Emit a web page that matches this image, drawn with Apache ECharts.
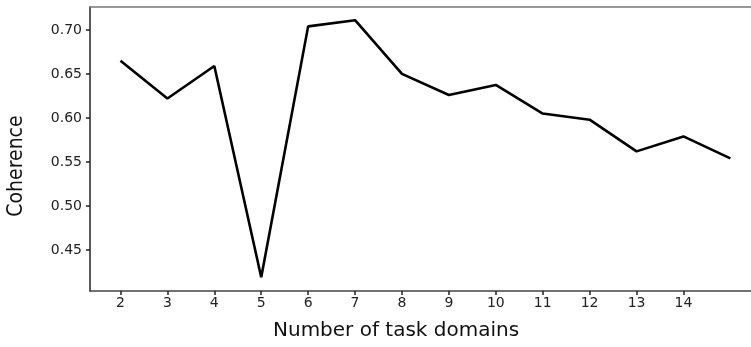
<!DOCTYPE html>
<html>
<head>
<meta charset="utf-8">
<script src="https://cdn.jsdelivr.net/npm/echarts@6/dist/echarts.min.js"></script>
<style>
  html, body { margin: 0; padding: 0; background: #fff; }
  #chart { width: 751px; height: 347px; }
</style>
</head>
<body>
<div id="chart"></div>
<script>
// Number of task domains vs. topic coherence
const domains = [2, 3, 4, 5, 6, 7, 8, 9, 10, 11, 12, 13, 14, 15];
const coherence = [0.665, 0.622, 0.659, 0.419, 0.704, 0.711, 0.650, 0.626, 0.6375, 0.605, 0.598, 0.562, 0.579, 0.554];
const xTicks = [2, 3, 4, 5, 6, 7, 8, 9, 10, 11, 12, 13, 14];
const yTicks = [0.45, 0.50, 0.55, 0.60, 0.65, 0.70];

// visible window of the axes (right-hand edge runs off the canvas)
const xMin = 1.35, xMax = 15.44;
const yMin = 0.4034, yMax = 0.726;

const tickFont = { fontFamily: 'DejaVu Sans', fontSize: 14, color: '#222' };

const chart = echarts.init(document.getElementById('chart'), null, { renderer: 'canvas' });
chart.setOption({
  animation: false,
  backgroundColor: '#fff',
  grid: { left: 90, top: 7, right: 0, bottom: 56, containLabel: false },
  xAxis: [{
    type: 'value', min: xMin, max: xMax, position: 'bottom',
    axisLine: { show: true, lineStyle: { color: '#444', width: 1.5 } },
    axisTick: { show: true, length: 4, lineStyle: { color: '#222', width: 1.5 }, customValues: xTicks },
    axisLabel: Object.assign({ margin: 5, customValues: xTicks, formatter: v => String(v) }, tickFont),
    splitLine: { show: false }
  }, {
    type: 'value', min: xMin, max: xMax, position: 'top',
    axisLine: { show: true, lineStyle: { color: '#777', width: 1.5 } },
    axisTick: { show: false }, axisLabel: { show: false }, splitLine: { show: false }
  }],
  yAxis: {
    type: 'value', min: yMin, max: yMax,
    axisLine: { show: true, lineStyle: { color: '#222', width: 1.5 } },
    axisTick: { show: true, length: 4, lineStyle: { color: '#222', width: 1.5 }, customValues: yTicks },
    axisLabel: Object.assign({ margin: 8, customValues: yTicks, formatter: v => v.toFixed(2) }, tickFont),
    splitLine: { show: false }
  },
  graphic: [{
    type: 'text', left: 273, top: 321,
    style: { text: 'Number of task domains', font: '20px "DejaVu Sans"', fill: '#111' }
  }, {
    type: 'text', x: 6, y: 166, rotation: Math.PI / 2,
    style: { text: 'Coherence', font: '21px "Liberation Sans Narrow", "DejaVu Sans Condensed", sans-serif', fill: '#111', align: 'center', verticalAlign: 'top' }
  }],
  series: [{
    type: 'line',
    data: domains.map((d, i) => [d, coherence[i]]),
    showSymbol: false,
    lineStyle: { color: '#000', width: 2.6 },
    clip: false
  }]
});
</script>
</body>
</html>
